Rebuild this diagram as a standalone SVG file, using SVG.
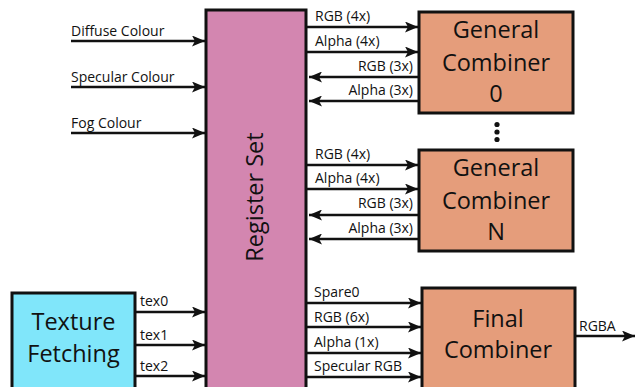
<svg xmlns="http://www.w3.org/2000/svg" width="635" height="387" viewBox="0 0 635 387">
<style>
.box{stroke:#111;stroke-width:3}
.reg{fill:#d386b0}
.comb{fill:#e59d7b}
.tex{fill:#80e6fa}
.big{font-family:"Open Sans","Liberation Sans",sans-serif;font-size:23.5px;fill:#111;text-anchor:middle}
.lbl{font-family:"Open Sans","Liberation Sans",sans-serif;font-size:14px;fill:#111}
.end{text-anchor:end}
.arr{stroke:#111;stroke-width:2.6;fill:none;marker-end:url(#ah)}
</style>
<defs>
<marker id="ah" markerUnits="userSpaceOnUse" markerWidth="13" markerHeight="11" refX="13" refY="5.5" orient="auto">
<path d="M0,0 L13,5.5 L0,11 L3,5.5 z" fill="#111"/>
</marker>
</defs>
<rect width="635" height="387" fill="#fff"/>
<g id="register-set">
<rect class="box reg" x="206" y="10" width="100" height="400"/>
<text class="big" transform="translate(263,197) rotate(-90)">Register Set</text>
</g>
<g id="general-combiner-0">
<rect class="box comb" x="419" y="12" width="154" height="101"/>
<text class="big" x="496" y="38">General</text>
<text class="big" x="496" y="71">Combiner</text>
<text class="big" x="496" y="102">0</text>
</g>
<g id="dots" fill="#111">
<circle cx="497" cy="124.5" r="2.6"/>
<circle cx="497" cy="132" r="2.6"/>
<circle cx="497" cy="139.5" r="2.6"/>
</g>
<g id="general-combiner-n">
<rect class="box comb" x="419" y="150" width="154" height="101"/>
<text class="big" x="496" y="176">General</text>
<text class="big" x="496" y="209">Combiner</text>
<text class="big" x="496" y="240">N</text>
</g>
<g id="final-combiner">
<rect class="box comb" x="422" y="288" width="153" height="130"/>
<text class="big" x="498" y="327">Final</text>
<text class="big" x="498" y="358">Combiner</text>
</g>
<g id="texture-fetching">
<rect class="box tex" x="12" y="293" width="123" height="130"/>
<text class="big" x="73.5" y="330">Texture</text>
<text class="big" x="73.5" y="362">Fetching</text>
</g>
<g id="connectors">
<line class="arr" x1="71" y1="41" x2="205" y2="41"/>
<line class="arr" x1="71" y1="87" x2="205" y2="87"/>
<line class="arr" x1="71" y1="133" x2="205" y2="133"/>
<line class="arr" x1="307" y1="27" x2="418" y2="27"/>
<line class="arr" x1="307" y1="52" x2="418" y2="52"/>
<line class="arr" x1="418" y1="77" x2="309" y2="77"/>
<line class="arr" x1="418" y1="101" x2="309" y2="101"/>
<line class="arr" x1="307" y1="165" x2="418" y2="165"/>
<line class="arr" x1="307" y1="189" x2="418" y2="189"/>
<line class="arr" x1="418" y1="215" x2="309" y2="215"/>
<line class="arr" x1="418" y1="239" x2="309" y2="239"/>
<line class="arr" x1="307" y1="303" x2="421" y2="303"/>
<line class="arr" x1="307" y1="327" x2="421" y2="327"/>
<line class="arr" x1="307" y1="353" x2="421" y2="353"/>
<line class="arr" x1="307" y1="377" x2="421" y2="377"/>
<line class="arr" x1="576" y1="336" x2="635" y2="336"/>
<line class="arr" x1="136" y1="312" x2="205" y2="312"/>
<line class="arr" x1="136" y1="345" x2="205" y2="345"/>
<line class="arr" x1="136" y1="376" x2="205" y2="376"/>
</g>
<g id="labels">
<text class="lbl" x="71" y="36">Diffuse Colour</text>
<text class="lbl" x="71" y="82">Specular Colour</text>
<text class="lbl" x="71" y="128">Fog Colour</text>
<text class="lbl" x="315" y="21">RGB (4x)</text>
<text class="lbl" x="315" y="46">Alpha (4x)</text>
<text class="lbl end" x="413" y="71">RGB (3x)</text>
<text class="lbl end" x="413" y="95">Alpha (3x)</text>
<text class="lbl" x="315" y="159">RGB (4x)</text>
<text class="lbl" x="315" y="183">Alpha (4x)</text>
<text class="lbl end" x="413" y="208">RGB (3x)</text>
<text class="lbl end" x="413" y="233">Alpha (3x)</text>
<text class="lbl" x="314" y="297">Spare0</text>
<text class="lbl" x="314" y="322">RGB (6x)</text>
<text class="lbl" x="314" y="347">Alpha (1x)</text>
<text class="lbl" x="314" y="371">Specular RGB</text>
<text class="lbl" x="579" y="331">RGBA</text>
<text class="lbl" x="140" y="306">tex0</text>
<text class="lbl" x="140" y="340">tex1</text>
<text class="lbl" x="140" y="371">tex2</text>
</g>
</svg>
